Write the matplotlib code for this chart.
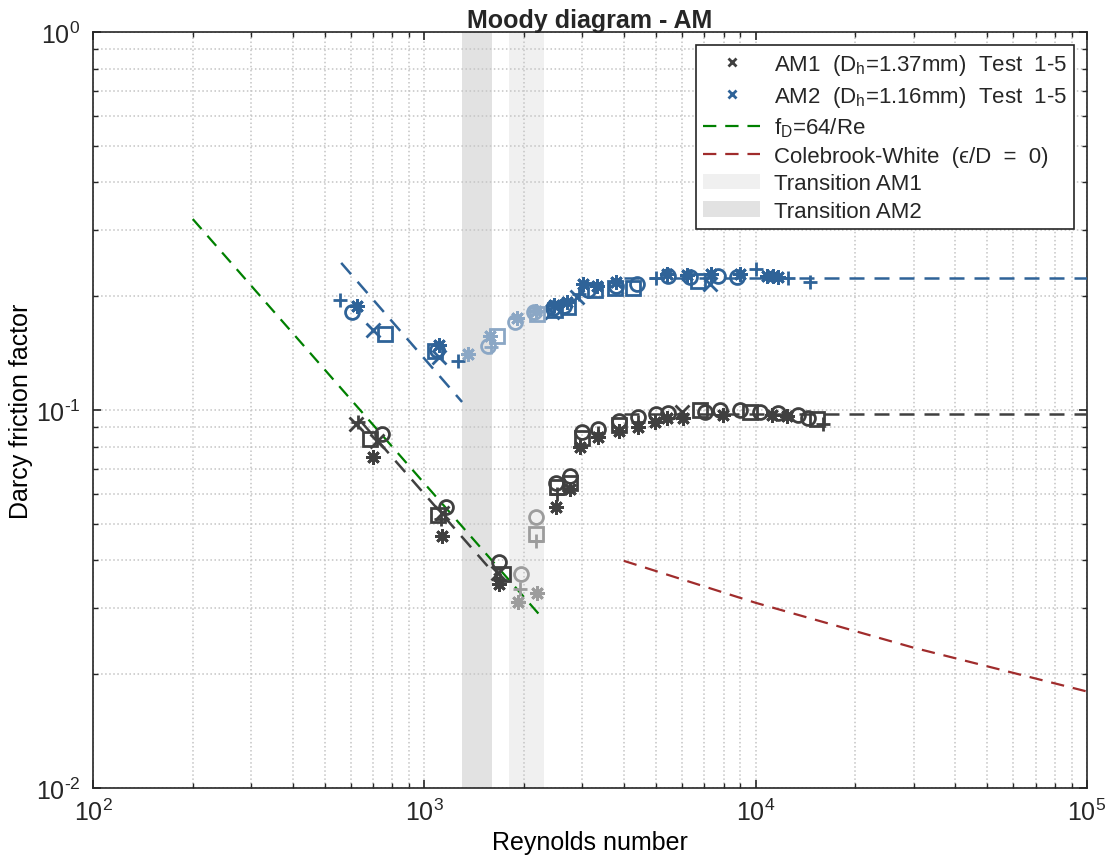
import numpy as np
import matplotlib
matplotlib.use("Agg")
import matplotlib.pyplot as plt
from matplotlib.lines import Line2D
from matplotlib.patches import Patch
from matplotlib.ticker import FuncFormatter

# ── PALETTE ────────────────────────────────────────────────
GREY       = "#404040"
GREY_FADE  = "#9c9c9c"
BLUE       = "#2f6398"
BLUE_FADE  = "#8ba7c5"
GREEN      = "#008000"
RED        = "#a02c2c"
BAND_AM1   = "#f0f0f0"
BAND_AM2   = "#e2e2e2"

# ── DATA ───────────────────────────────────────────────────
# AM1 (Dh = 1.37 mm), tests 1-5: x, +, *, o, s
am1_re = [620, 630, 720, 687, 745, 700,
          1130, 1120, 1130, 1100, 1160,
          1670, 1690, 1680, 1730, 1680,
          1950, 1920, 2190, 1960, 2180, 2180, 2180,
          2510, 2490, 2510, 2500, 2754, 2754, 2754,
          2960, 2995, 2990, 3340, 3345, 3345, 3860, 3860, 3860,
          4420, 4400, 4420, 4970, 5020, 5400, 5430, 6000, 6050,
          6800, 7050, 7950, 7800, 9000, 9600, 10300, 11240, 11700,
          12400, 13400, 14400, 15300, 16000]
am1_f = [0.092, 0.093, 0.083, 0.084, 0.0866, 0.075,
         0.0535, 0.0514, 0.0465, 0.0527, 0.0554,
         0.0370, 0.0355, 0.0347, 0.0368, 0.0396,
         0.0336, 0.031, 0.0328, 0.0368, 0.0522, 0.047, 0.045,
         0.060, 0.0554, 0.0625, 0.0641, 0.0618, 0.064, 0.067,
         0.080, 0.0874, 0.0845, 0.087, 0.085, 0.0891, 0.088, 0.091, 0.0933,
         0.093, 0.090, 0.0958, 0.093, 0.0975, 0.095, 0.098, 0.0989, 0.095,
         0.100, 0.099, 0.097, 0.100, 0.100, 0.099, 0.099, 0.097, 0.098,
         0.0965, 0.097, 0.0953, 0.0945, 0.092]
am1_mk = ["x", "+", "x", "s", "o", "*",
          "x", "+", "*", "s", "o",
          "x", "+", "*", "s", "o",
          "+", "*", "*", "o", "o", "s", "+",
          "+", "*", "s", "o", "*", "s", "o",
          "*", "o", "s", "+", "*", "o", "*", "s", "o",
          "+", "*", "o", "*", "o", "*", "o", "x", "*",
          "s", "o", "*", "o", "o", "s", "o", "*", "o",
          "*", "o", "o", "s", "+"]

# AM2 (Dh = 1.16 mm), tests 1-5
am2_re = [557, 605, 627, 700, 760,
          1080, 1095, 1110, 1105, 1264,
          1355, 1555, 1580, 1660, 1590, 1900, 1880, 2150, 2170, 2190,
          2450, 2460, 2480, 2420, 2640, 2700, 2720, 2920, 2880,
          3010, 3120, 3280, 3330, 3780, 3760, 3800, 4260, 4380,
          5000, 5450, 5400, 6200, 6350, 6690, 7280, 7350, 7720,
          8790, 8950, 10020, 10830, 11300, 11700, 12560, 14600]
am2_f = [0.195, 0.182, 0.188, 0.163, 0.159,
         0.143, 0.144, 0.149, 0.138, 0.135,
         0.141, 0.148, 0.157, 0.157, 0.147, 0.175, 0.171, 0.182, 0.183, 0.179,
         0.186, 0.190, 0.184, 0.182, 0.189, 0.193, 0.187, 0.203, 0.199,
         0.215, 0.208, 0.208, 0.213, 0.213, 0.210, 0.218, 0.210, 0.215,
         0.224, 0.226, 0.229, 0.227, 0.225, 0.219, 0.216, 0.229, 0.226,
         0.225, 0.229, 0.236, 0.226, 0.226, 0.225, 0.224, 0.218]
am2_mk = ["+", "o", "*", "x", "s",
          "s", "o", "*", "x", "+",
          "*", "o", "*", "s", "+", "*", "o", "o", "*", "s",
          "o", "*", "s", "x", "o", "*", "s", "+", "x",
          "*", "o", "s", "*", "o", "s", "*", "s", "o",
          "+", "o", "*", "*", "o", "s", "x", "*", "o",
          "o", "*", "+", "*", "*", "*", "+", "+"]

# transition ranges (Re) where points are drawn faded
am1_trans = [1800, 2300]
am2_trans = [1300, 1600]
am2_fade = [1300, 2300]

# fitted / reference lines
am1_lam_re = [650, 1800]
am1_lam_f = [0.0923, 0.0333]
am2_lam_re = [561, 1300]
am2_lam_f = [0.245, 0.105]
am1_turb_re = [4000, 100000]
am1_turb_f = [0.0974, 0.0974]
am2_turb_re = [4000, 100000]
am2_turb_f = [0.224, 0.224]
lam64_re = [200, 2300]
lam64_f = [0.32, 0.0278]
cw_re = [4000, 10000, 30000, 100000]
cw_f = [0.0399, 0.0309, 0.0235, 0.0180]

MARKERS = {"x": "x", "+": "+", "*": (8, 2, 0), "o": "o", "s": "s"}
DASH = (6, 4)


def set_style():
    plt.rcParams.update({
        "font.family": ["Liberation Sans", "DejaVu Sans"],
        "mathtext.fontset": "custom",
        "mathtext.rm": "Liberation Sans",
        "mathtext.it": "Liberation Sans:italic",
        "mathtext.bf": "Liberation Sans:bold",
        "axes.unicode_minus": False,
        "axes.edgecolor": "#262626",
        "axes.linewidth": 1.2,
        "xtick.color": "#262626",
        "ytick.color": "#262626",
        "text.color": "#262626",
    })


def pow10_label(v, pos):
    e = int(round(np.log10(v)))
    if e < 0:
        return r"$10^{\text{-}%d}$" % (-e)
    return r"$10^{%d}$" % e


def scatter_sample(ax, re, f, mk, color, fade_color, fade_range):
    re = np.asarray(re, float)
    f = np.asarray(f, float)
    mk = np.asarray(mk)
    faded = (re > fade_range[0]) & (re < fade_range[1])
    for code, m in MARKERS.items():
        for sel, col in ((~faded, color), (faded, fade_color)):
            idx = (mk == code) & sel
            if not idx.any():
                continue
            hollow = code in ("o", "s")
            ax.plot(re[idx], f[idx], ls="none", marker=m,
                    markersize=10 if code != "*" else 10.5,
                    markeredgewidth=2.0,
                    markerfacecolor="none" if hollow else col,
                    markeredgecolor=col, zorder=4)


set_style()
fig = plt.figure(figsize=(11.13, 8.62), dpi=100)
ax = fig.add_axes([0.0836, 0.0847, 0.893, 0.877])

ax.set_xscale("log")
ax.set_yscale("log")
ax.set_xlim(1e2, 1e5)
ax.set_ylim(1e-2, 1e0)

# transition bands
ax.axvspan(am1_trans[0], am1_trans[1], color=BAND_AM1, lw=0, zorder=0)
ax.axvspan(am2_trans[0], am2_trans[1], color=BAND_AM2, lw=0, zorder=0)

ax.grid(True, which="both", ls=":", color="#c4c4c4", lw=1.1, zorder=1)

# reference lines
ax.plot(lam64_re, lam64_f, ls="--", color=GREEN, lw=1.6, dashes=DASH, zorder=3)
ax.plot(cw_re, cw_f, ls="--", color=RED, lw=1.6, dashes=DASH, zorder=3)

# fits
ax.plot(am1_lam_re, am1_lam_f, ls="--", color=GREY, lw=1.8, dashes=DASH, zorder=3)
ax.plot(am1_turb_re, am1_turb_f, ls="--", color=GREY, lw=1.8, dashes=DASH, zorder=3)
ax.plot(am2_lam_re, am2_lam_f, ls="--", color=BLUE, lw=1.8, dashes=DASH, zorder=3)
ax.plot(am2_turb_re, am2_turb_f, ls="--", color=BLUE, lw=1.8, dashes=DASH, zorder=3)

scatter_sample(ax, am1_re, am1_f, am1_mk, GREY, GREY_FADE, am1_trans)
scatter_sample(ax, am2_re, am2_f, am2_mk, BLUE, BLUE_FADE, am2_fade)

ax.set_xticks([1e2, 1e3, 1e4, 1e5])
ax.set_yticks([1e-2, 1e-1, 1e0])
ax.xaxis.set_major_formatter(FuncFormatter(pow10_label))
ax.yaxis.set_major_formatter(FuncFormatter(pow10_label))
ax.tick_params(which="both", direction="in", top=True, right=True, labelsize=18)
ax.tick_params(axis="x", which="major", pad=8)
ax.tick_params(axis="y", which="major", pad=9)
ax.tick_params(which="major", length=6, width=1.2)
ax.tick_params(which="minor", length=3.5, width=1.0)

ax.set_xlabel("Reynolds number", fontsize=18, labelpad=3)
ax.set_ylabel("Darcy friction factor", fontsize=18, labelpad=2)
ax.set_title("Moody diagram - AM", fontsize=18, fontweight="bold", pad=3)

handles = [
    Line2D([], [], ls="none", marker="x", color=GREY, ms=6, mew=2),
    Line2D([], [], ls="none", marker="x", color=BLUE, ms=6, mew=2),
    Line2D([], [], ls="--", color=GREEN, lw=1.6, dashes=DASH),
    Line2D([], [], ls="--", color=RED, lw=1.6, dashes=DASH),
    Patch(facecolor=BAND_AM1, edgecolor="none"),
    Patch(facecolor=BAND_AM2, edgecolor="none"),
]
labels = [
    r"AM1  (D$_\mathrm{h}$=1.37mm)  Test  1-5",
    r"AM2  (D$_\mathrm{h}$=1.16mm)  Test  1-5",
    r"f$_\mathrm{D}$=64/Re",
    "Colebrook-White  (\u03f5/D  =  0)",
    "Transition AM1",
    "Transition AM2",
]
leg = ax.legend(handles, labels, loc="upper right", fontsize=16,
                frameon=True, fancybox=False, framealpha=1,
                edgecolor="#262626", borderaxespad=0.6,
                handlelength=2.6, handletextpad=0.6,
                labelspacing=0.3, borderpad=0.3)
leg.get_frame().set_linewidth(1.2)

fig.savefig("out.png", dpi=100)
